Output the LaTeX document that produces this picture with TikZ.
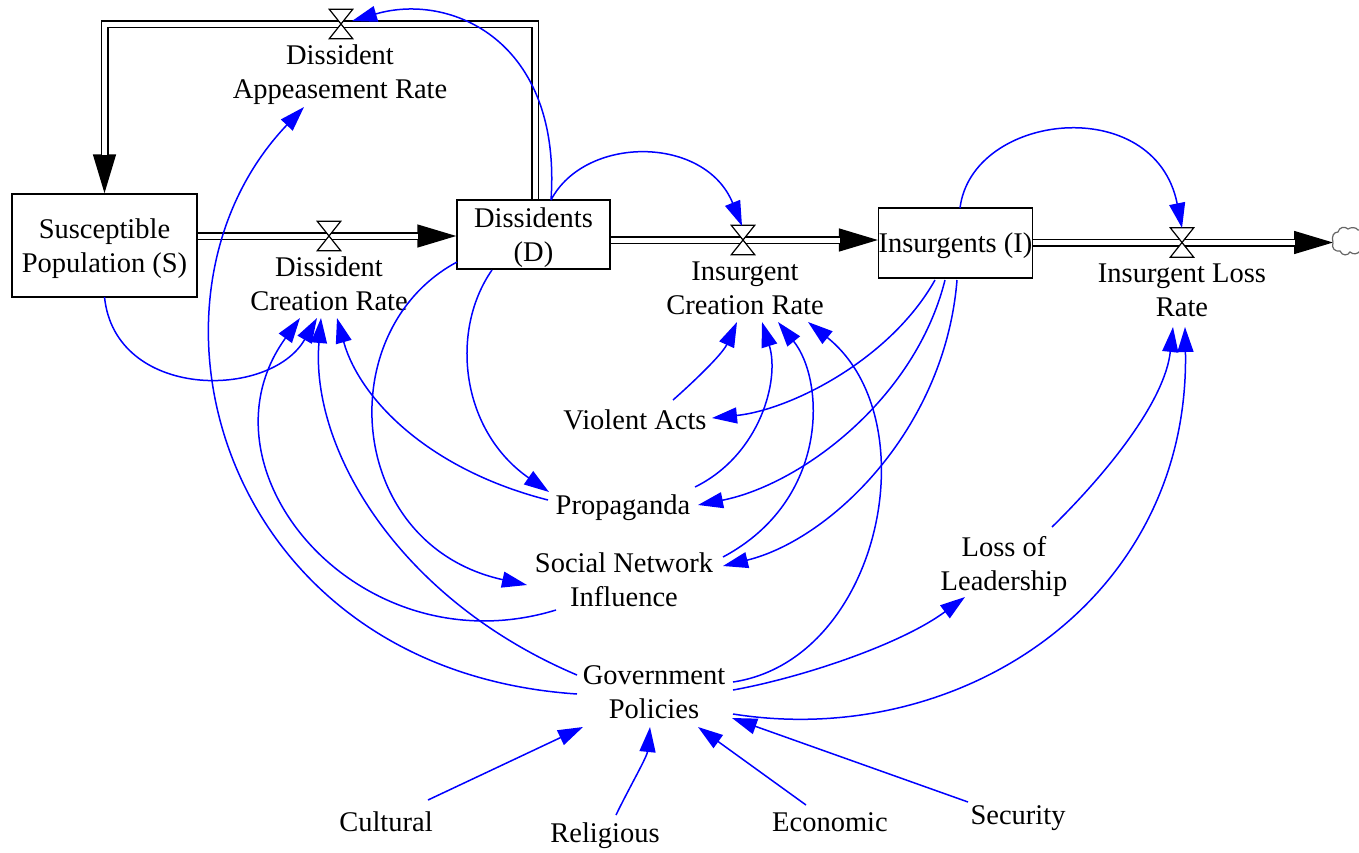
\documentclass[tikz,border=0pt]{standalone}
\usepackage{fontspec}
\setmainfont{Liberation Serif}
\usetikzlibrary{arrows.meta,calc}
\begin{document}
\begin{tikzpicture}[x=1pt,y=-1pt,
  every node/.style={font=\fontsize{28.5}{34}\selectfont},
  txt/.style={align=center, inner sep=2pt, text depth=0pt},
  stock/.style={draw, line width=1.5pt, align=center, inner sep=0pt, text depth=0pt},
  valve/.style={inner sep=0pt, minimum width=23pt, minimum height=29pt},
  pipe/.style={draw=black, double=white, double distance=5pt, line width=1.5pt},
  flowtip/.style={-{Triangle[length=39pt,width=23pt]}, line width=1.5pt, draw=black, fill=black},
  link/.style={draw=blue, line width=1.5pt, -{Triangle[length=25pt,width=16pt]}},
]
\useasboundingbox (0,0) rectangle (1359,852);
\fill[white] (0,0) rectangle (1359,852);

% stocks
\node[stock, minimum width=185pt, minimum height=103pt] (S) at (104.5,245.5) {Susceptible\\Population (S)};
\node[stock, minimum width=153pt, minimum height=69pt] (D) at (533.5,234.5) {Dissidents\\(D)};
\node[stock, minimum width=153pt, minimum height=70pt] (I) at (955.5,243) {Insurgents (I)};

% valves and rate labels
\node[valve] (dav) at (341,24) {};
\node[txt] (dar) at (340,72) {Dissident\\Appeasement Rate};
\node[valve] (dcrv) at (329,236) {};
\node[txt] (dcr) at (329,284) {Dissident\\Creation Rate};
\node[valve] (icrv) at (743,240) {};
\node[txt] (icr) at (745,288) {Insurgent\\Creation Rate};
\node[valve] (ilrv) at (1182,242.5) {};
\node[txt] (ilr) at (1182,290) {Insurgent Loss\\Rate};
\coordinate (cl) at (1333,242.5);

% auxiliaries
\node[txt] (va) at (635,420) {Violent Acts};
\node[txt] (prop) at (623,505) {Propaganda};
\node[txt] (sni) at (624,580) {Social Network\\Influence};
\node[txt] (gp) at (654,692) {Government\\Policies};
\node[txt] (lol) at (1004,563) {Loss of\\Leadership};
\node[txt] (cul) at (386,822) {Cultural};
\node[txt] (rel) at (605,833) {Religious};
\node[txt] (eco) at (830,822) {Economic};
\node[txt] (sec) at (1018,815) {Security};

% flows
\draw[flowtip] (dcrv.center) -- (D.west |- dcrv.center);
\draw[pipe, shorten >=38pt] (S.east |- dcrv.center) -- (D.west |- dcrv.center);
\draw[flowtip] (icrv.center) -- (I.west |- icrv.center);
\draw[pipe, shorten >=38pt] (D.east |- icrv.center) -- (I.west |- icrv.center);
\draw[flowtip] (ilrv.center) -- (cl);
\draw[pipe, shorten >=38pt] (I.east |- ilrv.center) -- (cl);
\draw[flowtip] (S.north |- dav.center) -- (S.north);
\draw[pipe, shorten >=38pt] ([xshift=1.5pt]D.north) |- (dav.center) -| (S.north);

\foreach \v in {dav,dcrv,icrv,ilrv}
  \filldraw[fill=white, draw=black, line width=1.2pt] (\v.north west) -- (\v.north east) -- (\v.south west) -- (\v.south east) -- cycle;

% cloud
\draw[black!60, line width=1.2pt] (cl) .. controls (1331,236) and (1334,232) .. (1338,232) .. controls (1339,227) and (1345,226) .. (1348,229) .. controls (1351,227) and (1356,227) .. (1358,230) -- (1362,230);
\draw[black!60, line width=1.2pt] (cl) .. controls (1331,248) and (1335,252) .. (1340,251) .. controls (1342,256) and (1348,256) .. (1350,252) .. controls (1353,255) and (1358,254) .. (1360,251);

% links
\draw[link] ($(D)+(17.5,-34.5)$) .. controls +(11,-160) and +(98,-29) .. ($(dav)+(11,-3)$);
\draw[link] ($(D)+(17.5,-34.5)$) .. controls +(34,-65) and +(-37,-91) .. ($(icrv)+(-1,-14)$);
\draw[link] ($(I)+(4.5,-35)$) .. controls +(12,-96) and +(-27,-136) .. ($(ilrv)+(0,-14.5)$);
\draw[link] ($(S)+(0,51.5)$) .. controls +(10.5,103) and +(-47,82) .. ($(dcr)+(-12,34)$);
\draw[link] ($(sni)+(-68,30)$) .. controls +(-196,60) and +(-110,152) .. ($(dcr)+(-29,34)$);
\draw[link] ($(gp)+(-77,-17)$) .. controls +(-177,-75) and +(-11,132) .. ($(dcr)+(-8,34)$);
\draw[link] ($(prop)+(-75,-5)$) .. controls +(-118,-30) and +(23,82) .. ($(dcr)+(8,34)$);
\draw[link] ($(gp)+(-77,2)$) .. controls +(-357,-24) and +(-184,193) .. ($(dar)+(-36,35)$);
\draw[link] ($(D)+(-76.5,27.5)$) .. controls +(-127,68) and +(-182,-40) .. ($(sni)+(-97,5)$);
\draw[link] ($(D)+(-41.5,35.5)$) .. controls +(-42,60) and +(-89,-62) .. ($(prop)+(-74,-13)$);
\draw[link] ($(va)+(38,-20)$) .. controls +(17,-15) and +(-15,33) .. ($(icr)+(-8,34)$);
\draw[link] ($(I)+(-20.5,37)$) .. controls +(-45,80) and +(78,-8) .. ($(va)+(77,-2)$);
\draw[link] ($(prop)+(72,-18)$) .. controls +(65,-32) and +(18,58) .. ($(icr)+(17,34)$);
\draw[link] ($(I)+(-10.5,37)$) .. controls +(-30,120) and +(102,-20) .. ($(prop)+(75,0)$);
\draw[link] ($(sni)+(99,-23)$) .. controls +(107,-57) and +(47,58) .. ($(icr)+(33,34)$);
\draw[link] ($(I)+(1.5,37)$) .. controls +(-12,150) and +(107,-26) .. ($(sni)+(99,-14)$);
\draw[link] ($(gp)+(79,-10)$) .. controls +(147,-22) and +(122,98) .. ($(icr)+(63,34)$);
\draw[link] ($(gp)+(79,-2)$) .. controls +(67,-12) and +(-65,48) .. ($(lol)+(-39,34)$);
\draw[link] ($(lol)+(48,-36)$) .. controls +(58,-57) and +(-8,73) .. ($(ilr)+(-9,37)$);
\draw[link] ($(gp)+(79,22)$) .. controls +(227,36) and +(5,273) .. ($(ilr)+(3,37)$);
\draw[link] ($(cul)+(42,-22)$) -- ($(gp)+(-71,35)$);
\draw[link] ($(rel)+(11,-18)$) .. controls +(12,-25) and +(-3,30) .. ($(gp)+(-4,35)$);
\draw[link] ($(eco)+(-24,-17)$) -- ($(gp)+(44,35)$);
\draw[link] ($(sec)+(-50,-13)$) -- ($(gp)+(78,26)$);
\end{tikzpicture}
\end{document}
